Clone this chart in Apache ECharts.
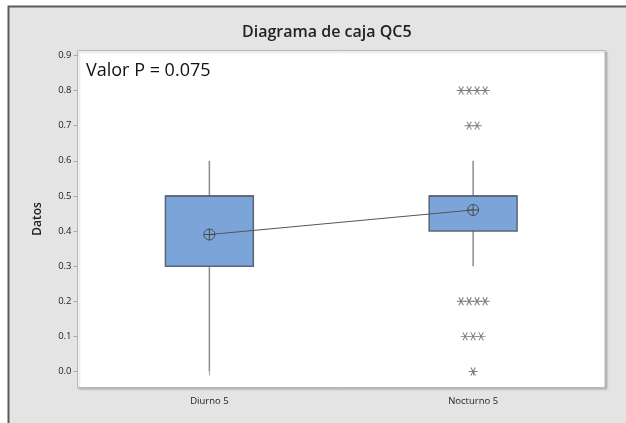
<!DOCTYPE html>
<html>
<head>
<meta charset="utf-8">
<script src="https://cdn.jsdelivr.net/npm/echarts@6/dist/echarts.min.js"></script>
<style>
  html, body { margin: 0; padding: 0; background: #fff; }
  #chart { width: 626px; height: 423px; }
</style>
</head>
<body>
<div id="chart"></div>
<script>
// datos
const categories = ['Diurno 5', 'Nocturno 5'];
// [min, Q1, mediana, Q3, max] de los bigotes
const boxStats = [
  [0.0, 0.3, 0.5, 0.5, 0.6],
  [0.3, 0.4, 0.5, 0.5, 0.6]
];
const means = [0.39, 0.46];
const outlierCategory = 1;
const outlierValues = [0.8, 0.8, 0.8, 0.8, 0.7, 0.7, 0.2, 0.2, 0.2, 0.2, 0.1, 0.1, 0.1, 0.0];
const yTicks = [0, 0.1, 0.2, 0.3, 0.4, 0.5, 0.6, 0.7, 0.8, 0.9];
const pValueText = 'Valor P = 0.075';

const fontFam = '"Open Sans", "Noto Sans", sans-serif';

// agrupar outliers repetidos para dibujarlos lado a lado
const counts = {};
outlierValues.forEach(v => { counts[v] = (counts[v] || 0) + 1; });
const seen = {};
const outlierData = outlierValues.map(v => {
  const n = counts[v];
  const k = seen[v] || 0;
  seen[v] = k + 1;
  return {
    value: [outlierCategory, v],
    symbolOffset: [(k - (n - 1) / 2) * 8, 0]
  };
});

const boxData = boxStats.map((s, i) => [i].concat(s));

function renderBox(params, api) {
  const x = api.value(0);
  const pMin = api.coord([x, api.value(1)]);
  const pQ1 = api.coord([x, api.value(2)]);
  const pMed = api.coord([x, api.value(3)]);
  const pQ3 = api.coord([x, api.value(4)]);
  const pMax = api.coord([x, api.value(5)]);
  const w = api.size([1, 0])[0] / 3;
  const whisker = { stroke: '#8c8c8c', lineWidth: 1.5 };
  return {
    type: 'group',
    children: [
      { type: 'line', shape: { x1: pMin[0], y1: pMin[1], x2: pQ1[0], y2: pQ1[1] }, style: whisker },
      { type: 'line', shape: { x1: pQ3[0], y1: pQ3[1], x2: pMax[0], y2: pMax[1] }, style: whisker },
      {
        type: 'rect',
        shape: { x: pQ1[0] - w / 2, y: pQ3[1], width: w, height: pQ1[1] - pQ3[1] },
        style: { fill: '#7ba5d9', stroke: '#5b6573', lineWidth: 1.5 }
      },
      { type: 'line', shape: { x1: pMed[0] - w / 2, y1: pMed[1], x2: pMed[0] + w / 2, y2: pMed[1] }, style: { stroke: '#5b6573', lineWidth: 1.5 } }
    ]
  };
}

const chart = echarts.init(document.getElementById('chart'));

const option = {
  backgroundColor: '#fff',
  animation: false,
  textStyle: { fontFamily: fontFam },
  graphic: [
    {
      type: 'rect', z: -10, silent: true,
      shape: { x: 8.5, y: 6.5, width: 700, height: 500 },
      style: { fill: '#e4e4e4', stroke: '#5a5a5a', lineWidth: 2 }
    },
    {
      type: 'text', left: 86, top: 62, z: 10,
      style: { text: pValueText, fontSize: 18, fontWeight: 500, fontFamily: fontFam, fill: '#111' }
    }
  ],
  title: {
    text: 'Diagrama de caja QC5',
    left: 237,
    top: 19,
    textStyle: { fontSize: 16, fontWeight: 600, color: '#222', fontFamily: fontFam }
  },
  grid: {
    left: 77.5,
    right: 21,
    top: 50.5,
    bottom: 35.5,
    show: true,
    backgroundColor: '#fff',
    borderColor: '#b8b8b8',
    borderWidth: 1,
    shadowColor: 'rgba(0,0,0,0.2)',
    shadowBlur: 2,
    shadowOffsetX: 1.5,
    shadowOffsetY: 1.5
  },
  xAxis: {
    type: 'category',
    data: categories,
    boundaryGap: true,
    axisLine: { show: false },
    axisTick: { show: true, alignWithLabel: true, length: 4, lineStyle: { color: '#aaa' } },
    axisLabel: { fontSize: 9.5, color: '#222', margin: 9 },
    splitLine: { show: false }
  },
  yAxis: {
    type: 'value',
    min: -0.0455,
    max: 0.914,
    name: 'Datos',
    nameLocation: 'middle',
    nameGap: 34,
    nameRotate: 90,
    nameTextStyle: { fontSize: 12, color: '#222', fontWeight: 600 },
    axisLine: { show: false },
    axisTick: { show: true, length: 4, customValues: yTicks, lineStyle: { color: '#aaa' } },
    axisLabel: {
      fontSize: 9.5, color: '#222', margin: 6,
      customValues: yTicks,
      formatter: v => v.toFixed(1)
    },
    splitLine: { show: false }
  },
  series: [
    {
      name: 'caja',
      type: 'custom',
      renderItem: renderBox,
      encode: { x: 0, y: [1, 2, 3, 4, 5] },
      data: boxData,
      z: 2
    },
    {
      name: 'media',
      type: 'line',
      data: means,
      symbol: 'path://M0,5A5,5 0 1,1 10,5A5,5 0 1,1 0,5ZM0,5L10,5M5,0L5,10',
      symbolSize: 11,
      itemStyle: { color: 'rgba(0,0,0,0)', borderColor: '#4a4a4a', borderWidth: 1 },
      lineStyle: { color: '#555', width: 1 },
      z: 5
    },
    {
      name: 'atipicos',
      type: 'scatter',
      data: outlierData,
      symbol: 'path://M0,5L10,5M2.5,0.7L7.5,9.3M2.5,9.3L7.5,0.7',
      symbolSize: [9, 8],
      itemStyle: { color: 'rgba(0,0,0,0)', borderColor: '#5e5e5e', borderWidth: 1 },
      z: 4
    }
  ]
};

chart.setOption(option);
</script>
</body>
</html>
